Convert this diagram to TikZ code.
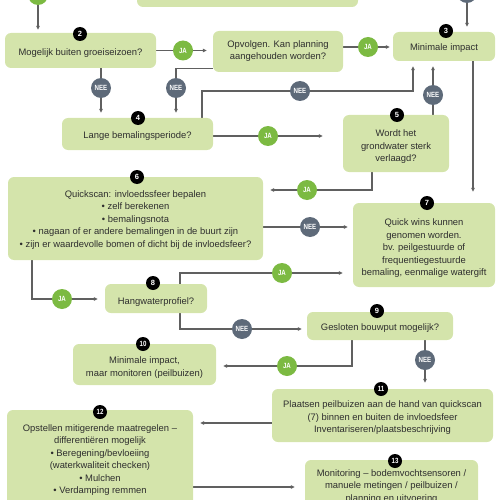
\documentclass[tikz,border=0pt]{standalone}
\usepackage{fontspec}
\setmainfont{Liberation Sans}
\usetikzlibrary{arrows.meta,backgrounds,calc}
\definecolor{boxc}{HTML}{D4E4AB}
\definecolor{jac}{HTML}{7CBA42}
\definecolor{neec}{HTML}{5E6A79}
\definecolor{linec}{HTML}{606060}
\newcommand{\cond}[1]{\scalebox{0.82}[1]{#1}}
\begin{document}
\begin{tikzpicture}[x=1pt,y=-1pt,
 box/.style={fill=boxc, rounded corners=6pt, inner sep=0pt},
 txt/.style={align=center, inner sep=0pt, font=\fontsize{9.4}{12.5}\selectfont, text=black!82},
 num/.style={circle, fill=black, text=white, inner sep=0pt, minimum size=14pt, font=\fontsize{7.5}{7.5}\selectfont\bfseries},
 ja/.style={circle, fill=jac, text=white, inner sep=0pt, minimum size=20pt, font=\fontsize{7.5}{7.5}\selectfont\bfseries},
 nee/.style={circle, fill=neec, text=white, inner sep=0pt, minimum size=20pt, font=\fontsize{7.5}{7.5}\selectfont\bfseries},
 conn/.style={draw=linec, line width=1.1pt, -{Triangle[length=4pt,width=3.6pt]}}]
\useasboundingbox (0,0) rectangle (500,500);
% boxes
\node[box, minimum width=221pt, minimum height=54pt] (b1) at (247.5,-20) {};
\node[box, minimum width=151pt, minimum height=35pt] (b2) at (80.5,50.5) {};
\node[box, minimum width=130pt, minimum height=41pt] (bO) at (278,51.5) {};
\node[box, minimum width=102pt, minimum height=29pt] (b3) at (444,46.5) {};
\node[box, minimum width=151pt, minimum height=32pt] (b4) at (137.5,134) {};
\node[box, minimum width=106pt, minimum height=57pt] (b5) at (396,143.5) {};
\node[box, minimum width=255pt, minimum height=83pt] (b6) at (135.5,218.5) {};
\node[box, minimum width=142pt, minimum height=84pt] (b7) at (424,245) {};
\node[box, minimum width=102pt, minimum height=29pt] (b8) at (156,298.5) {};
\node[box, minimum width=146pt, minimum height=28pt] (b9) at (380,326) {};
\node[box, minimum width=143pt, minimum height=41pt] (b10) at (144.5,364.5) {};
\node[box, minimum width=221pt, minimum height=53pt] (b11) at (382.5,415.5) {};
\node[box, minimum width=186pt, minimum height=100pt] (b12) at (100,460) {};
\node[box, minimum width=173pt, minimum height=55pt] (b13) at (391.5,487.5) {};
% texts
\node[txt] (t2) at ($(b2.center)+(0,2.5)$) {Mogelijk buiten groeiseizoen?};
\node[txt] (tO) at ($(bO.center)+(0,-0.5)$) {Opvolgen. Kan planning\\aangehouden worden?};
\node[txt] (t3) at ($(b3.center)+(0,1.5)$) {Minimale impact};
\node[txt] (t4) at ($(b4.center)+(0,2.5)$) {Lange bemalingsperiode?};
\node[txt] (t5) at ($(b5.center)+(0,3.5)$) {Wordt het\\grondwater sterk\\verlaagd?};
\node[txt] (t6) at ($(b6.center)+(0,1.5)$) {Quickscan: invloedssfeer bepalen\\• zelf berekenen\\• bemalingsnota\\• nagaan of er andere bemalingen in de buurt zijn\\• zijn er waardevolle bomen of dicht bij de invloedsfeer?};
\node[txt] (t7) at ($(b7.center)+(0,3.5)$) {Quick wins kunnen\\genomen worden.\\bv. peilgestuurde of\\frequentiegestuurde\\bemaling, eenmalige watergift};
\node[txt] (t8) at ($(b8.center)+(0,3.5)$) {Hangwaterprofiel?};
\node[txt] (t9) at ($(b9.center)+(0,2.5)$) {Gesloten bouwput mogelijk?};
\node[txt] (t10) at ($(b10.center)+(0,3)$) {Minimale impact,\\maar monitoren (peilbuizen)};
\node[txt] (t11) at ($(b11.center)+(0,2.5)$) {Plaatsen peilbuizen aan de hand van quickscan\\(7) binnen en buiten de invloedsfeer\\Inventariseren/plaatsbeschrijving};
\node[txt] (t12) at ($(b12.center)+(0,0)$) {Opstellen mitigerende maatregelen –\\differentiëren mogelijk\\• Beregening/bevloeiing\\(waterkwaliteit checken)\\• Mulchen\\• Verdamping remmen};
\node[txt] (t13) at ($(b13.center)+(0,-1)$) {Monitoring – bodemvochtsensoren /\\manuele metingen / peilbuizen /\\planning en uitvoering};
% number badges
\node[num] (n2) at (80,34) {2};
\node[num] (n3) at (446,31) {3};
\node[num] (n4) at (138,118) {4};
\node[num] (n5) at (397,115) {5};
\node[num] (n6) at (137,177) {6};
\node[num] (n7) at (427,203) {7};
\node[num] (n8) at (153,283) {8};
\node[num] (n9) at (377,311) {9};
\node[num] (n10) at (143,344) {\cond{10}};
\node[num] (n11) at (381,389) {\cond{11}};
\node[num] (n12) at (100,412) {\cond{12}};
\node[num] (n13) at (395,461) {\cond{13}};
% decision circles
\node[ja] (ja0) at (38,-5) {};
\node[nee] (nee0) at (467,-7) {};
\node[ja] (ja1) at (183,50.5) {\cond{JA}};
\node[ja] (ja2) at (368,47) {\cond{JA}};
\node[nee] (nee1) at (101,88) {\cond{NEE}};
\node[nee] (nee2) at (176,88) {\cond{NEE}};
\node[nee] (nee3) at (300,91) {\cond{NEE}};
\node[nee] (nee4) at (433,95) {\cond{NEE}};
\node[ja] (ja3) at (268,136) {\cond{JA}};
\node[ja] (ja4) at (307,190) {\cond{JA}};
\node[nee] (nee5) at (310,227) {\cond{NEE}};
\node[ja] (ja5) at (282,273) {\cond{JA}};
\node[ja] (ja6) at (62,299) {\cond{JA}};
\node[nee] (nee6) at (242,329) {\cond{NEE}};
\node[ja] (ja7) at (287,366) {\cond{JA}};
\node[nee] (nee7) at (425,360) {\cond{NEE}};
% helper coordinates
\coordinate (x202) at (202,0);
\coordinate (x413) at (413,0);
\coordinate (x473) at (473,0);
\coordinate (x372) at (372,0);
\coordinate (x180) at (180,0);
\coordinate (x32) at (32,0);
\coordinate (x352) at (352,0);
\coordinate (y423) at (0,423);
\coordinate (y487) at (0,487);
\begin{pgfonlayer}{background}
\draw[conn, shorten >=3pt] (ja0) -- (ja0 |- b2.north);
\draw[conn, shorten >=5pt] (nee0) -- (nee0 |- b3.north);
\draw[conn, shorten >=6pt] (b2.east |- ja1) -- (ja1) -- (ja1 -| bO.west);
\draw[conn, shorten >=3pt] (bO.east |- ja2) -- (ja2) -- (ja2 -| b3.west);
\draw[conn, shorten >=5pt] (b2.south -| nee1) -- (nee1) -- (nee1 |- b4.north);
\draw[conn, shorten >=5pt] ([yshift=4pt]bO.south west) -| (nee2) -- (nee2 |- b4.north);
\draw[conn, shorten >=5pt] (b4.north -| x202) |- (nee3) -| (b3.south -| x413);
\draw[conn, shorten >=5pt] (b5.north -| nee4) -- (nee4) -- (nee4 |- b3.south);
\draw[conn, shorten >=20pt] (b4.east |- ja3) -- (ja3) -- (ja3 -| b5.west);
\draw[conn, shorten >=11pt] (b3.south -| x473) -- (b7.north -| x473);
\draw[conn, shorten >=7pt] (b5.south -| x372) |- (ja4) -- (ja4 -| b6.east);
\draw[conn, shorten >=5pt] (b6.east |- nee5) -- (nee5) -- (nee5 -| b7.west);
\draw[conn, shorten >=10pt] (b8.north -| x180) |- (ja5) -- (ja5 -| b7.west);
\draw[conn, shorten >=7pt] (b6.south -| x32) |- (ja6) -- (ja6 -| b8.west);
\draw[conn, shorten >=5pt] (b8.south -| x180) |- (nee6) -- (nee6 -| b9.west);
\draw[conn, shorten >=7pt] (b9.south -| x352) |- (ja7) -- (ja7 -| b10.east);
\draw[conn, shorten >=6pt] (b9.south -| nee7) -- (nee7) -- (nee7 |- b11.north);
\draw[conn, shorten >=7pt] (b11.west |- y423) -- (b12.east |- y423);
\draw[conn, shorten >=10pt] (b12.east |- y487) -- (b13.west |- y487);
\end{pgfonlayer}
\end{tikzpicture}
\end{document}
